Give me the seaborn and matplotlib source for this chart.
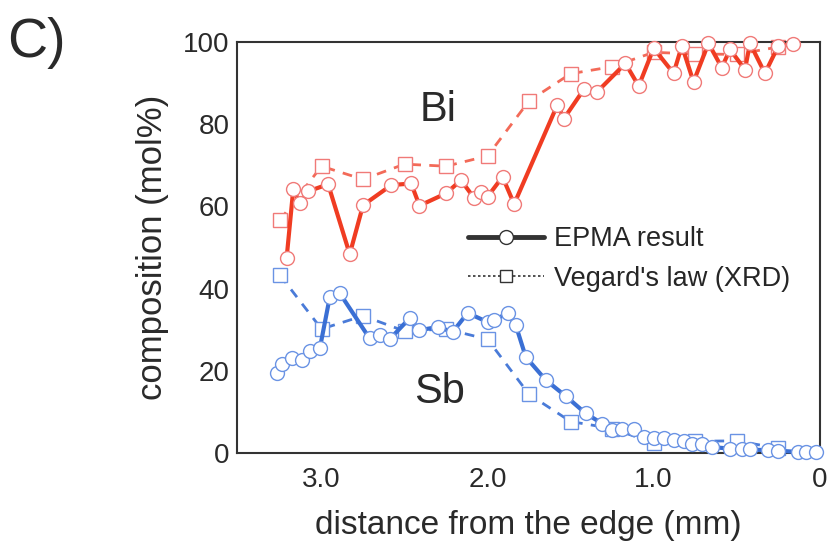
import matplotlib
matplotlib.use("Agg")
import matplotlib.pyplot as plt
from matplotlib.lines import Line2D
import seaborn as sns
import pandas as pd

# ---- data ----
bi_epma_x = [3.21, 3.17, 3.13, 3.08, 2.96, 2.83, 2.75, 2.58, 2.46, 2.41, 2.25, 2.16, 2.08, 2.04, 2.00,
             1.91, 1.84, 1.58, 1.54, 1.42, 1.34, 1.17, 1.09, 1.00, 0.88, 0.83, 0.76, 0.67, 0.59, 0.54,
             0.45, 0.42, 0.33, 0.25, 0.16]
bi_epma_y = [47.5, 64.2, 60.8, 63.7, 65.4, 48.4, 60.3, 65.2, 65.6, 60.2, 63.2, 66.4, 62.0, 63.6, 62.4,
             67.2, 60.6, 84.7, 81.4, 88.5, 87.9, 94.8, 89.3, 98.5, 92.4, 99.1, 90.3, 99.7, 93.8, 98.2,
             93.3, 99.7, 92.4, 99.0, 99.5]

sb_epma_x = [3.27, 3.24, 3.18, 3.12, 3.07, 3.01, 2.95, 2.89, 2.71, 2.65, 2.59, 2.47, 2.41, 2.30, 2.21,
             2.12, 2.00, 1.96, 1.88, 1.83, 1.77, 1.65, 1.53, 1.41, 1.31, 1.25, 1.19, 1.12, 1.06, 1.00,
             0.94, 0.88, 0.82, 0.77, 0.71, 0.65, 0.54, 0.47, 0.42, 0.31, 0.25, 0.13, 0.08, 0.02]
sb_epma_y = [19.4, 21.8, 23.2, 22.6, 24.8, 25.5, 38.0, 38.9, 27.9, 28.7, 27.7, 32.8, 29.9, 30.7, 29.5,
             34.1, 31.9, 32.4, 34.0, 31.1, 23.4, 17.8, 13.9, 9.7, 7.2, 5.6, 6.0, 5.8, 4.0, 3.6,
             3.6, 3.2, 3.0, 2.2, 2.2, 1.5, 1.1, 1.1, 0.9, 0.7, 0.6, 0.3, 0.3, 0.3]

vegard_x = [3.25, 3.00, 2.75, 2.50, 2.25, 2.00, 1.75, 1.50, 1.25, 1.00, 0.75, 0.50, 0.25]
bi_vegard_y = [56.7, 69.8, 66.6, 70.3, 69.8, 72.3, 85.7, 92.3, 94.0, 97.5, 97.1, 97.0, 98.8]
sb_vegard_y = [43.3, 30.2, 33.4, 29.7, 30.2, 27.7, 14.3, 7.7, 6.0, 2.5, 2.9, 3.0, 1.2]

x_ticks = [3.0, 2.0, 1.0, 0.0]
x_tick_labels = ["3.0", "2.0", "1.0", "0"]
y_ticks = [0, 20, 40, 60, 80, 100]

# ---- style ----
sns.set_theme(style="white")
plt.rcParams['font.family'] = ['Liberation Sans', 'DejaVu Sans']

fig = plt.figure(figsize=(8.28, 5.46), dpi=100)
ax = fig.add_axes([0.286, 0.170, 0.704, 0.753])

TXT = "#2a2a2a"
RED_LINE = "#f03c22"
RED_EDGE = "#f07a78"
BLUE_LINE = "#3a6fd4"
BLUE_EDGE = "#6a93e4"

df_bi_v = pd.DataFrame({"x": vegard_x, "y": bi_vegard_y})
df_sb_v = pd.DataFrame({"x": vegard_x, "y": sb_vegard_y})
df_bi_e = pd.DataFrame({"x": bi_epma_x, "y": bi_epma_y})
df_sb_e = pd.DataFrame({"x": sb_epma_x, "y": sb_epma_y})

common_v = dict(estimator=None, sort=False, ax=ax, marker="s", markersize=10,
                markerfacecolor="white", markeredgewidth=1.0, linewidth=2.0,
                dashes=False, clip_on=False, zorder=2)
sns.lineplot(data=df_bi_v, x="x", y="y", color="#f36a58", markeredgecolor=RED_EDGE,
             linestyle=(0, (3.5, 3)), **common_v)
sns.lineplot(data=df_sb_v, x="x", y="y", color="#4a7bd8", markeredgecolor=BLUE_EDGE,
             linestyle=(0, (3.5, 3)), **common_v)

common_e = dict(estimator=None, sort=False, ax=ax, marker="o", markersize=10,
                markerfacecolor="white", markeredgewidth=1.0, linewidth=3.0,
                clip_on=False, zorder=3)
sns.lineplot(data=df_bi_e, x="x", y="y", color=RED_LINE, markeredgecolor=RED_EDGE, **common_e)
sns.lineplot(data=df_sb_e, x="x", y="y", color=BLUE_LINE, markeredgecolor=BLUE_EDGE, **common_e)

ax.set_xlim(3.51, 0.0)
ax.set_ylim(0, 100)
ax.set_xticks(x_ticks)
ax.set_xticklabels(x_tick_labels)
ax.set_yticks(y_ticks)
ax.tick_params(axis="x", length=0, labelsize=20, colors=TXT, pad=10)
ax.tick_params(axis="y", length=0, labelsize=20, colors=TXT, pad=5)
ax.set_xlabel("distance from the edge (mm)", fontsize=24, color=TXT, labelpad=12)
ax.set_ylabel("composition (mol%)", fontsize=25, color=TXT, labelpad=10)
for s in ax.spines.values():
    s.set_color("#333333")
    s.set_linewidth(1.5)
ax.grid(False)

ax.text(2.30, 83.5, "Bi", fontsize=30, color=TXT, ha="center", va="center")
ax.text(2.29, 14.9, "Sb", fontsize=30, color=TXT, ha="center", va="center")

handles = [
    Line2D([], [], color="#333333", linewidth=3.5, marker="o", markersize=10,
           markerfacecolor="white", markeredgecolor="#333333", markeredgewidth=1.0),
    Line2D([], [], color="#333333", linewidth=1.2, linestyle=(0, (1.5, 1.5)), marker="s",
           markersize=9, markerfacecolor="white", markeredgecolor="#333333", markeredgewidth=1.0),
]
ax.legend(handles=handles, labels=["EPMA result", "Vegard's law (XRD)"],
          loc="upper left", bbox_to_anchor=(0.565, 0.586), bbox_transform=fig.transFigure,
          frameon=False, fontsize=19.5, handlelength=2.8, handletextpad=0.4,
          labelspacing=0.5, borderpad=0, borderaxespad=0)

fig.text(0.044, 0.922, "C)", fontsize=40, color=TXT, ha="center", va="center")

fig.savefig("out.png", dpi=100)
